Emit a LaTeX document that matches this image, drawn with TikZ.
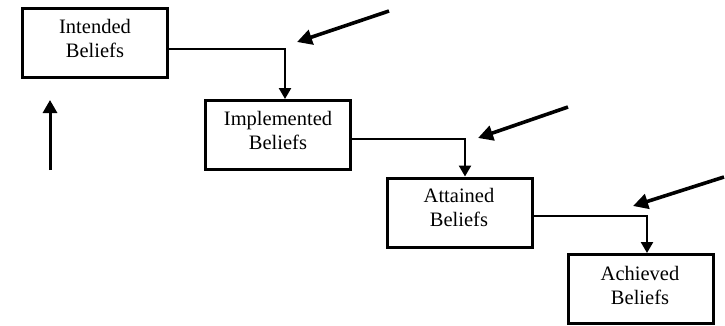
\documentclass[tikz,border=0pt]{standalone}
\usepackage{fontspec}
\setmainfont{Liberation Serif}
\usetikzlibrary{arrows.meta}
\begin{document}
\begin{tikzpicture}[x=1pt,y=-1pt,
  box/.style={draw,line width=3pt,minimum width=145pt,minimum height=69pt,inner sep=0pt},
  txt/.style={align=center,font=\fontsize{20.5}{24}\selectfont,inner sep=0pt},
  conn/.style={line width=2.4pt,-{Triangle[width=12pt,length=11pt]}},
  hint/.style={line width=3.6pt,-{Triangle[width=15pt,length=15pt]}}]
\useasboundingbox (0,0) rectangle (725,325);
\node[box] (b1) at (94.5,42.5) {};
\node[box] (b2) at (278,135) {};
\node[box] (b3) at (459.5,212.5) {};
\node[box] (b4) at (640.5,289) {};
\node[txt] (t1) at (95,38) {Intended\\Beliefs};
\node[txt] (t2) at (278,130) {Implemented\\Beliefs};
\node[txt] (t3) at (459,207) {Attained\\Beliefs};
\node[txt] (t4) at (640,285) {Achieved\\Beliefs};
\draw[conn] ([yshift=-6.5pt]b1.east) -| ([xshift=7pt]b2.north);
\draw[conn] ([yshift=-4pt]b2.east) -| ([xshift=5.5pt]b3.north);
\draw[conn] ([yshift=-3.5pt]b3.east) -| ([xshift=6.5pt]b4.north);
\coordinate (s1) at (389,11); \coordinate (e1) at (297,42);
\coordinate (s2) at (568,107); \coordinate (e2) at (478,138);
\coordinate (s3) at (724,177); \coordinate (e3) at (633,206);
\coordinate (s0) at (50,170); \coordinate (e0) at (50,100);
\draw[hint] (s1) -- (e1);
\draw[hint] (s2) -- (e2);
\draw[hint] (s3) -- (e3);
\draw[line width=3pt,-{Triangle[width=14pt,length=13pt]}] (s0) -- (e0);
\end{tikzpicture}
\end{document}
